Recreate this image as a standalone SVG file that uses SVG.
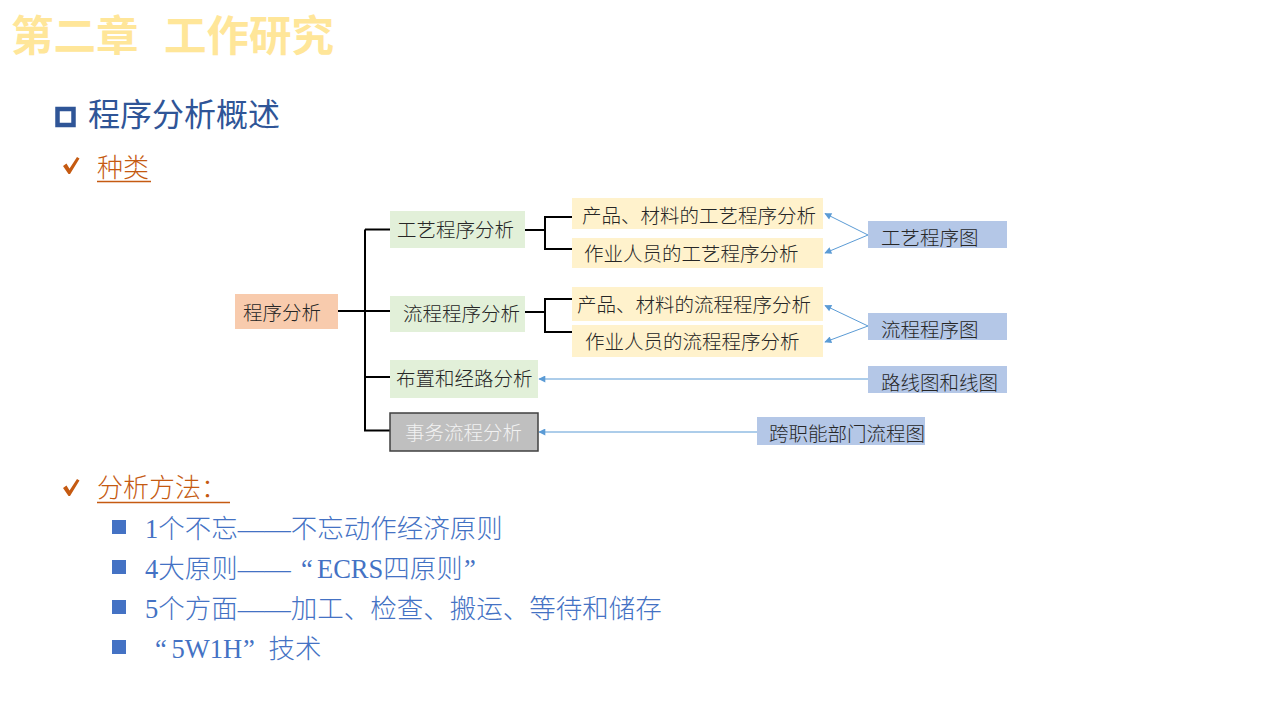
<svg xmlns="http://www.w3.org/2000/svg" width="1280" height="720" viewBox="0 0 1280 720">
<style>
.t{font-family:"Noto Sans CJK SC","Liberation Sans",sans-serif;}
.s{font-family:"Liberation Serif","Noto Sans CJK SC",serif;font-weight:300;}
.nt{font-family:"Noto Sans CJK SC","Liberation Sans",sans-serif;font-size:19.5px;fill:#262626;font-weight:300;}
.green{fill:#E2F0D9;}
.yellow{fill:#FFF2CC;}
.blue{fill:#B4C7E7;}
.conn{stroke:#000;stroke-width:2;fill:none;}
.arr{stroke:#5B9BD5;stroke-width:1;fill:none;marker-end:url(#ah);}
.or{fill:#C55A11;}
.li{font-family:"Liberation Serif","Noto Sans CJK SC",serif;font-size:26.5px;fill:#4472C4;font-weight:300;}
.bul{fill:#4472C4;}
</style>
<defs>
<marker id="ah" viewBox="0 0 10 10" refX="9" refY="5" markerWidth="8" markerHeight="7" markerUnits="userSpaceOnUse" orient="auto">
<path d="M0,0 L10,5 L0,10 z" fill="#5B9BD5"/>
</marker>
<path id="chk" d="M63,166 L66.5,163.5 L69.5,168.5 L77,157 L79.5,158.5 L70,174 L68.5,174 Z" fill="#C55A11"/>
</defs>
<rect width="1280" height="720" fill="#fff"/>

<!-- Title -->
<text class="t" x="11" y="51" font-size="42.5" font-weight="700" fill="#FFE699">第二章</text>
<text class="t" x="164" y="51" font-size="42.5" font-weight="700" fill="#FFE699">工作研究</text>

<!-- Heading -->
<rect x="57.5" y="109" width="16" height="16" fill="none" stroke="#2F5597" stroke-width="4.5"/>
<text class="t" x="88" y="126" font-size="32" fill="#2F5597">程序分析概述</text>

<!-- 种类 -->
<use href="#chk"/>
<text class="s or" x="97" y="177" font-size="26">种类</text>
<line x1="97" y1="181.5" x2="151" y2="181.5" stroke="#C55A11" stroke-width="1.3"/>

<!-- Connectors -->
<g id="connectors">
<path class="conn" d="M338,311 H390 M365,229.5 V431 M365,229.5 H390 M365,377 H390 M364,430.5 H390"/>
<path class="conn" d="M525,230 H545 M572,217 H545 V249 H572"/>
<path class="conn" d="M525,312 H545 M572,299 H545 V332 H572"/>
<line class="arr" x1="868" y1="235" x2="825" y2="213.5"/>
<line class="arr" x1="868" y1="235" x2="825" y2="253"/>
<line class="arr" x1="868" y1="326" x2="825" y2="305.5"/>
<line class="arr" x1="868" y1="326" x2="825" y2="342"/>
<line class="arr" x1="868" y1="379" x2="539" y2="379"/>
<line class="arr" x1="757" y1="432" x2="539" y2="432"/>
</g>

<!-- Nodes -->
<g id="n-root">
<rect x="235" y="294" width="103" height="35" fill="#F8CBAD"/>
<text class="nt" x="243" y="319.5" font-size="21.3px">程序分析</text>
</g>
<g id="n-gongyi">
<rect class="green" x="390" y="211" width="135" height="37"/>
<text class="nt" x="397" y="237">工艺程序分析</text>
</g>
<g id="n-liucheng">
<rect class="green" x="390" y="296" width="135" height="36"/>
<text class="nt" x="403" y="320.5">流程程序分析</text>
</g>
<g id="n-buzhi">
<rect class="green" x="390" y="360" width="148" height="38"/>
<text class="nt" x="396" y="386">布置和经路分析</text>
</g>
<g id="n-shiwu">
<rect x="390" y="413" width="148" height="38" fill="#BFBFBF" stroke="#404040" stroke-width="1.5"/>
<text class="nt" x="405" y="439.5" style="fill:#F2F2F2">事务流程分析</text>
</g>
<g id="n-gy1">
<rect class="yellow" x="572" y="198" width="251" height="31"/>
<text class="nt" x="582" y="222.5">产品、材料的工艺程序分析</text>
</g>
<g id="n-gy2">
<rect class="yellow" x="572" y="238" width="251" height="30"/>
<text class="nt" x="584" y="261">作业人员的工艺程序分析</text>
</g>
<g id="n-lc1">
<rect class="yellow" x="572" y="287" width="251" height="34"/>
<text class="nt" x="577" y="312">产品、材料的流程程序分析</text>
</g>
<g id="n-lc2">
<rect class="yellow" x="572" y="325" width="251" height="32"/>
<text class="nt" x="585" y="349">作业人员的流程程序分析</text>
</g>
<g id="n-gytu">
<rect class="blue" x="868" y="221" width="139" height="27"/>
<text class="nt" x="881" y="245">工艺程序图</text>
</g>
<g id="n-lctu">
<rect class="blue" x="868" y="313" width="139" height="27"/>
<text class="nt" x="881" y="336.5">流程程序图</text>
</g>
<g id="n-lxtu">
<rect class="blue" x="868" y="366" width="139" height="27"/>
<text class="nt" x="881" y="390">路线图和线图</text>
</g>
<g id="n-kzn">
<rect class="blue" x="757" y="417" width="168" height="28"/>
<text class="nt" x="769" y="441">跨职能部门流程图</text>
</g>

<!-- 分析方法 -->
<use href="#chk" transform="translate(0,322)"/>
<text class="s or" x="97" y="497" font-size="26">分析方法：</text>
<line x1="97" y1="502.5" x2="230" y2="502.5" stroke="#C55A11" stroke-width="1.3"/>

<rect class="bul" x="112" y="520" width="14" height="14"/>
<rect class="bul" x="112" y="560" width="14" height="14"/>
<rect class="bul" x="112" y="600" width="14" height="14"/>
<rect class="bul" x="112" y="640" width="14" height="14"/>

<text class="li" x="145" y="538">1个不忘——不忘动作经济原则</text>
<text class="li" y="578"><tspan x="145">4大原则——</tspan><tspan x="301">“</tspan><tspan x="317">ECRS四原则</tspan><tspan x="464">”</tspan></text>
<text class="li" x="145" y="618">5个方面——加工、检查、搬运、等待和储存</text>
<text class="li" y="658"><tspan x="155">“</tspan><tspan x="171.5">5W1H</tspan><tspan x="243">”</tspan><tspan x="268.5">技术</tspan></text>
</svg>
